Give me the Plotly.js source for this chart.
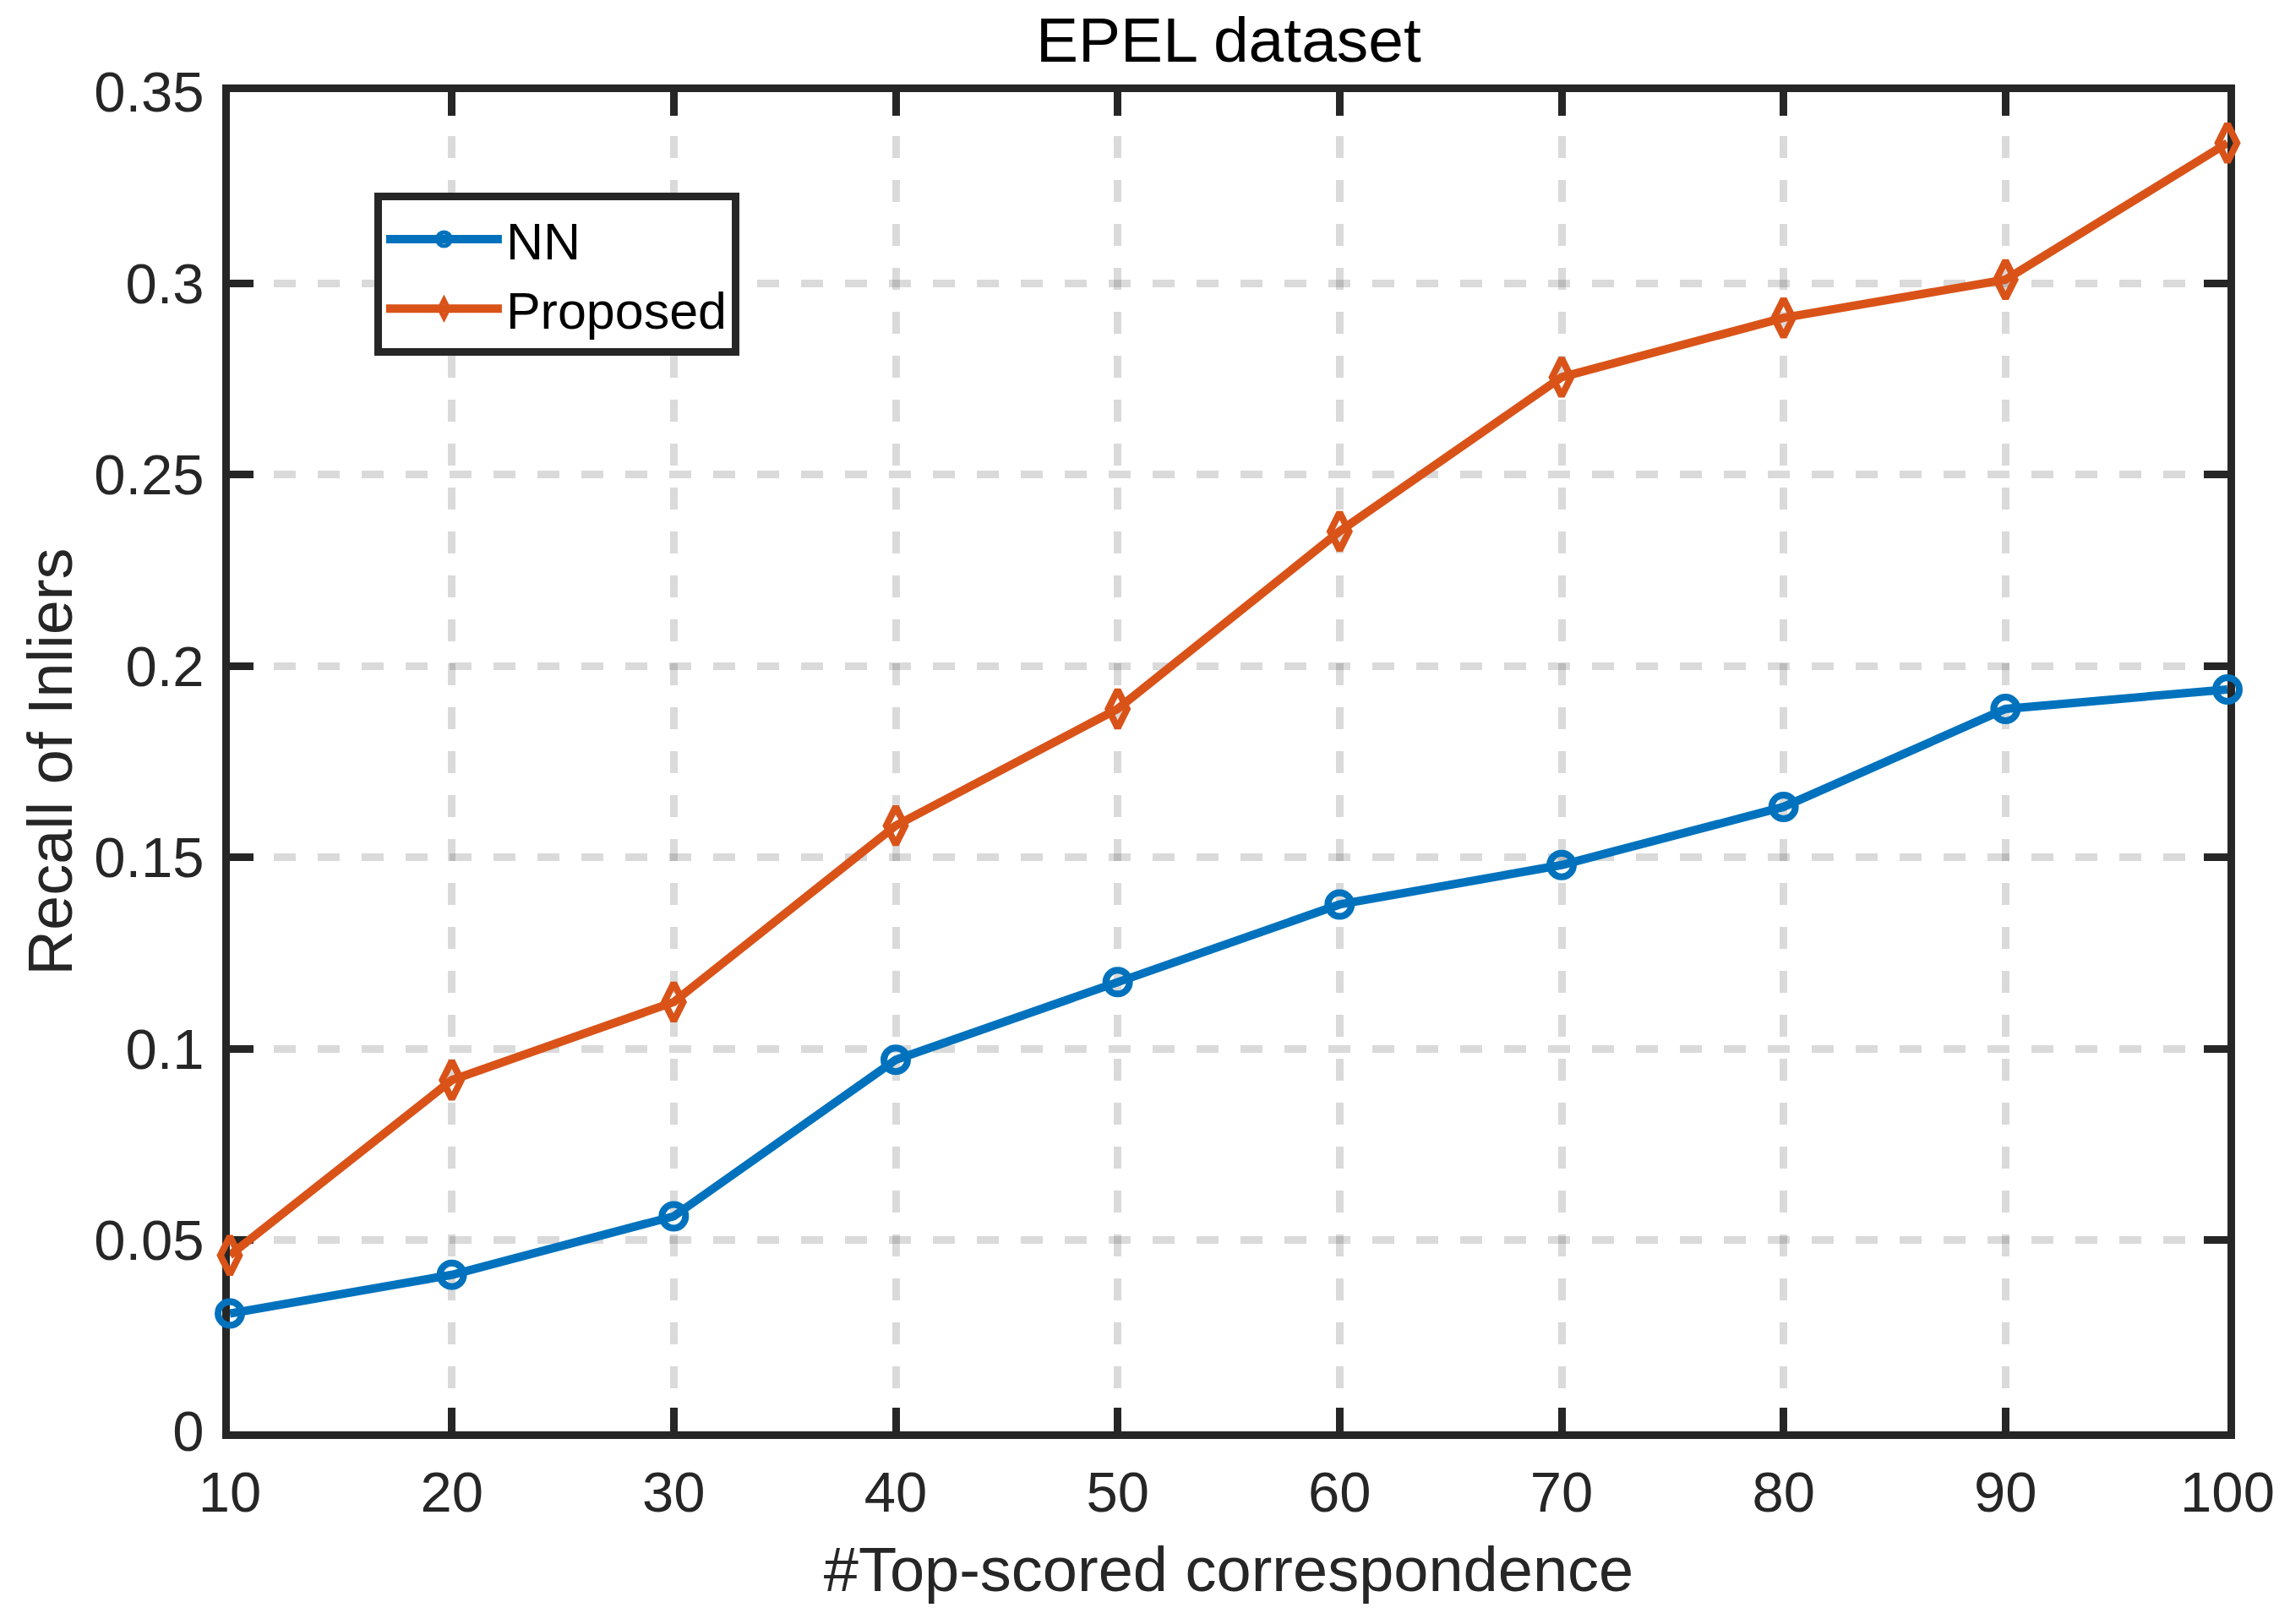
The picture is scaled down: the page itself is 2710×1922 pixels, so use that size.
<!DOCTYPE html>
<html>
<head>
<meta charset="utf-8">
<script src="https://cdn.plot.ly/plotly-3.0.1.min.js"></script>
<style>html,body{margin:0;padding:0;background:#fff;}#chart{width:2710px;height:1922px;}</style>
</head>
<body>
<div id="chart"></div>
<script>
// ---- data ----
var topScored = [10, 20, 30, 40, 50, 60, 70, 80, 90, 100];
var recallNN = [0.0308, 0.0409, 0.0562, 0.0971, 0.1174, 0.1377, 0.1480, 0.1632, 0.1888, 0.1939];
var recallProposed = [0.0460, 0.0918, 0.1122, 0.1583, 0.1888, 0.2352, 0.2755, 0.2910, 0.3010, 0.3367];
var xTickVals = [10, 20, 30, 40, 50, 60, 70, 80, 90, 100];
var xTickText = ['10', '20', '30', '40', '50', '60', '70', '80', '90', '100'];
var yTickVals = [0, 0.05, 0.1, 0.15, 0.2, 0.25, 0.3, 0.35];
var yTickText = ['0', '0.05', '0.1', '0.15', '0.2', '0.25', '0.3', '0.35'];
var seriesNames = ['NN', 'Proposed'];

var FONT = 'Liberation Sans, Arial, Helvetica, sans-serif';
var AX = '#262626';
var GRID = 'rgba(38,38,38,0.17)';

var traces = [
  {
    x: topScored, y: recallNN, name: seriesNames[0], type: 'scatter', mode: 'lines+markers',
    line: {color: '#0072BD', width: 10},
    marker: {symbol: 'circle-open', size: 28, color: '#0072BD', line: {color: '#0072BD', width: 8}},
    cliponaxis: false
  },
  {
    x: topScored, y: recallProposed, name: seriesNames[1], type: 'scatter', mode: 'lines+markers',
    line: {color: '#D95319', width: 10},
    marker: {symbol: 'diamond-tall-open', size: 32, color: '#D95319', line: {color: '#D95319', width: 8}},
    cliponaxis: false
  }
];

var axisCommon = {
  showline: true, linecolor: AX, linewidth: 9, mirror: 'allticks',
  ticks: 'inside', ticklen: 28, tickwidth: 9, tickcolor: AX,
  showgrid: true, gridcolor: GRID, gridwidth: 9, griddash: '26px,26px',
  zeroline: false, layer: 'below traces',
  tickfont: {family: FONT, size: 67, color: AX},
  automargin: false, fixedrange: true
};

var layout = {
  width: 2710, height: 1922,
  paper_bgcolor: '#ffffff', plot_bgcolor: '#ffffff',
  margin: {l: 272, r: 74, t: 109, b: 228, pad: 0},
  showlegend: true,
  title: {
    text: 'EPEL dataset', font: {family: FONT, size: 75, color: '#000000'},
    x: 0.5, xref: 'paper', xanchor: 'center', y: 1 - 47 / 1922, yref: 'container', yanchor: 'middle'
  },
  xaxis: Object.assign({}, axisCommon, {
    range: [10, 100], tickmode: 'array', tickvals: xTickVals, ticktext: xTickText,
    ticklabelstandoff: 6,
    title: {text: '#Top-scored correspondence', font: {family: FONT, size: 74, color: AX}, standoff: 32}
  }),
  yaxis: Object.assign({}, axisCommon, {
    range: [0, 0.35], tickmode: 'array', tickvals: yTickVals, ticktext: yTickText,
    ticklabelstandoff: 8,
    title: {text: 'Recall of Inliers', font: {family: FONT, size: 74, color: AX}, standoff: 5}
  }),
  legend: {
    x: 0.0723, y: 0.925, xanchor: 'left', yanchor: 'top',
    bgcolor: '#ffffff', bordercolor: AX, borderwidth: 9,
    font: {family: FONT, size: 61, color: '#000000'},
    itemwidth: 137, tracegroupgap: 0
  }
};

Plotly.newPlot('chart', traces, layout, {displayModeBar: false, responsive: false, staticPlot: true});
</script>
</body>
</html>
